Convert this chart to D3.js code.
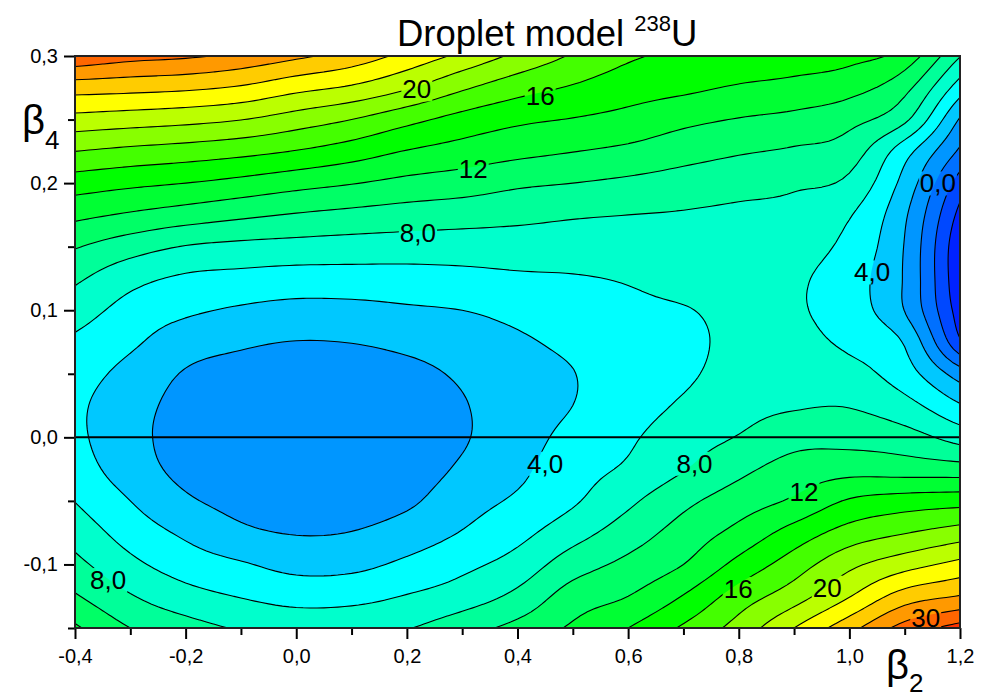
<!DOCTYPE html>
<html><head><meta charset="utf-8">
<script src="https://cdn.jsdelivr.net/npm/d3@7"></script>
<style>
body{margin:0;background:#fff;}
text{font-family:"Liberation Sans",Arial,Helvetica,sans-serif;fill:#000;}
</style>
</head><body>
<svg id="chart" width="992" height="698"></svg>
<script>
// ---------------- DATA ----------------
const beta2 = [-0.4,-0.3,-0.2,-0.1,0.0,0.1,0.2,0.3,0.4,0.5,0.6,0.7,0.8,0.9,1.0,1.1,1.2];
// rows from beta4 = 0.3 (top) down to -0.15 (bottom)
const beta4 = [0.3,0.275,0.25,0.225,0.2,0.175,0.15,0.125,0.1,0.075,0.05,0.025,0.0,-0.025,-0.05,-0.075,-0.1,-0.125,-0.15];
// deformation energy (MeV), one array per beta2 column
const colM04 = [29.6,24.9,21.3,18.0,15.0,12.5,10.15,8.35,6.95,5.65,4.85,4.4,4.45,4.95,5.95,7.2,8.55,10.2,12.3];
const colM03 = [28.7,24.65,20.95,17.5,14.45,11.75,8.9,6.65,5.3,4.35,3.4,2.8,2.65,3.0,4.0,5.15,6.5,8.15,10.0];
const colM02 = [28.3,24.35,20.6,17.1,14.0,11.05,7.9,5.7,4.35,2.9,1.85,1.35,1.2,1.45,2.3,3.65,5.05,6.75,8.8];
const colM01 = [27.5,23.75,20.05,16.6,13.4,10.4,7.5,5.4,3.75,2.3,1.3,0.75,0.6,0.8,1.4,2.4,4.2,5.9,7.8];
const colP00 = [26.4,22.6,19.05,15.9,12.7,9.85,7.3,5.15,3.4,1.95,0.9,0.35,0.2,0.4,1.0,1.9,3.4,5.3,7.3];
const colP01 = [25.2,21.7,18.0,15.0,12.1,9.45,7.15,5.15,3.45,2.05,0.95,0.35,0.15,0.4,1.0,2.05,3.5,5.4,7.4];
const colP02 = [23.4,20.2,16.6,13.9,11.45,9.1,7.05,5.2,3.75,2.5,1.4,0.8,0.65,0.95,1.65,2.9,4.4,6.1,7.9];
const colP03 = [21.5,18.3,15.3,13.2,11.0,8.85,7.0,5.4,4.0,3.1,2.3,1.85,1.8,2.3,3.2,4.1,5.5,7.0,9.2];
const colP04 = [19.55,16.8,14.4,12.55,10.35,8.55,7.0,5.7,4.5,3.75,3.3,3.1,3.2,3.55,4.3,5.4,6.8,8.5,10.6];
const colP05 = [17.8,15.8,13.9,12.05,10.0,8.2,7.0,5.85,5.0,4.4,3.95,4.0,4.55,5.2,5.75,7.2,9.05,10.9,12.3];
const colP06 = [16.3,14.9,13.35,11.55,9.6,8.0,7.1,6.15,5.6,5.2,5.0,5.15,5.7,6.3,7.6,9.0,10.5,12.0,14.0];
const colP07 = [15.6,14.4,12.5,10.8,9.15,7.85,7.3,6.6,5.9,5.6,5.7,6.25,7.1,7.9,9.5,10.8,12.0,14.1,16.3];
const colP08 = [15.3,13.8,11.9,10.2,8.7,7.6,7.0,6.6,6.4,6.4,6.7,7.3,8.1,9.5,11.0,12.6,14.6,16.9,18.8];
const colP09 = [15.0,13.4,11.45,9.75,8.3,7.4,6.8,6.3,6.2,6.5,7.1,7.8,9.3,10.8,12.3,14.8,17.0,19.1,22.0];
const colP10 = [14.6,12.7,10.6,9.0,7.55,6.15,5.4,4.85,5.0,5.6,6.7,7.9,9.3,11.3,14.2,16.8,19.5,21.9,25.3];
const colP11 = [13.2,10.6,8.4,4.8,3.3,2.3,1.9,1.8,1.95,3.8,4.9,6.7,8.8,11.1,14.9,17.9,21.2,24.9,28.8];
const colP12 = [8.1,5.0,1.8,-0.35,-2.9,-4.6,-5.6,-5.6,-5.0,-3.7,1.0,4.2,7.2,10.9,15.2,18.9,22.6,26.1,30.8];
const energyColumns = [colM04,colM03,colM02,colM01,colP00,colP01,colP02,colP03,colP04,colP05,colP06,colP07,colP08,colP09,colP10,colP11,colP12];

const levels = [-8,-6,-4,-2,0,2,4,6,8,10,12,14,16,18,20,22,24,26,28,30,32];
const bandColors = ["#0000e6","#0000ff","#0022ff","#0048ff","#0070ff","#0096ff","#00c8ff","#00ffff","#00ffcc","#00ff99","#00ff66","#00ff33","#00ff00","#44ff00","#88ff00","#bbff00","#ffff00","#ffcc00","#ff9900","#ff6600","#ff3300","#ff0000"];

const xMajorTicks = [-0.4,-0.2,0.0,0.2,0.4,0.6,0.8,1.0,1.2];
const xMinorTicks = [-0.3,-0.1,0.1,0.3,0.5,0.7,0.9,1.1];
const yMajorTicks = [-0.1,0.0,0.1,0.2,0.3];
const yMinorTicks = [-0.15,-0.05,0.05,0.15,0.25];

const labelTexts = ["20","16","12","8,0","0,0","4,0","4,0","8,0","12","16","20","30","8,0"];
const labelB2 = [0.218,0.441,0.320,0.220,1.160,1.041,0.450,0.720,0.918,0.799,0.960,1.138,-0.340];
const labelB4 = [0.274,0.269,0.211,0.161,0.200,0.130,-0.0205,-0.0205,-0.0425,-0.119,-0.118,-0.1417,-0.112];

// ---------------- LAYOUT ----------------
const svg = d3.select("#chart");
const L = 75, R = 960, T = 56, B = 628;
const x = d3.scaleLinear().domain([-0.4,1.2]).range([L,R]);
const y = d3.scaleLinear().domain([-0.15,0.3]).range([B,T]);

// smooth resampling of the read grid for drawing (Catmull-Rom)
const NC = beta2.length, NR = beta4.length, F = 8;
function g(i,j){
  if(i<0) return 2*g(0,j)-g(1,j);
  if(i>NC-1) return 2*g(NC-1,j)-g(NC-2,j);
  if(j<0) return 2*g(i,0)-g(i,1);
  if(j>NR-1) return 2*g(i,NR-1)-g(i,NR-2);
  return energyColumns[i][j];
}
function cr(p0,p1,p2,p3,t){return p1+0.5*t*(p2-p0+t*(2*p0-5*p1+4*p2-p3+t*(3*(p1-p2)+p3-p0)));}
const NX=(NC-1)*F+1, NY=(NR-1)*F+1;
const vals=new Float64Array(NX*NY);
for(let jj=0;jj<NY;jj++){
  const fj=jj/F, j=Math.min(Math.floor(fj),NR-2), tj=fj-j;
  for(let ii=0;ii<NX;ii++){
    const fi=ii/F, i=Math.min(Math.floor(fi),NC-2), ti=fi-i;
    const col=[];
    for(let a=-1;a<=2;a++) col.push(cr(g(i+a,j-1),g(i+a,j),g(i+a,j+1),g(i+a,j+2),tj));
    vals[jj*NX+ii]=cr(col[0],col[1],col[2],col[3],ti);
  }
}
const sx=(R-L)/(NX-1), sy=(B-T)/(NY-1);
const proj=d3.geoTransform({point(px,py){this.stream.point(L+(px-0.5)*sx, T+(py-0.5)*sy);}});
const path=d3.geoPath(proj);
const contours=d3.contours().size([NX,NY]).thresholds(levels)(vals);

svg.append("clipPath").attr("id","plotclip").append("rect").attr("x",L).attr("y",T).attr("width",R-L).attr("height",B-T);

const plot=svg.append("g").attr("clip-path","url(#plotclip)");
plot.append("rect").attr("x",L).attr("y",T).attr("width",R-L).attr("height",B-T).attr("fill",bandColors[0]);
plot.append("g").selectAll("path").data(contours).join("path")
  .attr("d",path).attr("fill",(d,i)=>bandColors[i+1]).attr("stroke","none");

// contour labels (also used to cut the lines)
const labelData = labelTexts.map((t,i)=>({t, b2:labelB2[i], b4:labelB4[i]}));
const mask=svg.append("mask").attr("id","lblmask").attr("maskUnits","userSpaceOnUse");
mask.append("rect").attr("x",0).attr("y",0).attr("width",992).attr("height",698).attr("fill","#fff");
const lblG=svg.append("g");
lblG.selectAll("text").data(labelData).join("text")
  .attr("x",d=>x(d.b2)).attr("y",d=>y(d.b4)).attr("dy","0.36em")
  .attr("text-anchor","middle").attr("font-size",26).text(d=>d.t)
  .each(function(){const b=this.getBBox();
    mask.append("rect").attr("x",b.x-1).attr("y",b.y+3).attr("width",b.width+2).attr("height",b.height-6).attr("fill","#000");});

const lines=plot.append("g").attr("mask","url(#lblmask)");
lines.selectAll("path").data(contours.filter(c=>c.coordinates.length)).join("path")
  .attr("d",path).attr("fill","none").attr("stroke","#000").attr("stroke-width",1.1);
lblG.raise();

// zero line
svg.append("line").attr("x1",L).attr("x2",R).attr("y1",y(0)).attr("y2",y(0)).attr("stroke","#000").attr("stroke-width",2);

// axes
const fmt=d=>d3.format(".1f")(d).replace(".",",").replace("\u2212","-");
svg.append("g").attr("transform",`translate(0,${B})`)
  .call(d3.axisBottom(x).tickValues(xMajorTicks).tickSize(11).tickPadding(10).tickFormat(fmt));
svg.append("g").attr("transform",`translate(0,${B})`)
  .call(d3.axisBottom(x).tickValues(xMinorTicks).tickSize(7).tickFormat(""));
svg.append("g").attr("transform",`translate(${L},0)`)
  .call(d3.axisLeft(y).tickValues(yMajorTicks).tickSize(11).tickPadding(6).tickFormat(fmt));
svg.append("g").attr("transform",`translate(${L},0)`)
  .call(d3.axisLeft(y).tickValues(yMinorTicks).tickSize(7).tickFormat(""));
svg.selectAll(".domain").remove();
svg.selectAll(".tick line").attr("stroke","#000").attr("stroke-width",2);
svg.selectAll(".tick text").attr("font-size",20).attr("font-family","Liberation Sans, Arial, sans-serif").attr("fill","#000");

// frame
svg.append("rect").attr("x",L).attr("y",T).attr("width",R-L).attr("height",B-T)
  .attr("fill","none").attr("stroke","#222").attr("stroke-width",2);

// title
const title=svg.append("text").attr("x",397).attr("y",46).attr("font-size",36.5);
title.append("tspan").text("Droplet model ");
title.append("tspan").attr("font-size",22).attr("dy",-15).text("238");
title.append("tspan").attr("dy",15).text("U");

// axis titles
const yt=svg.append("text").attr("x",22).attr("y",134).attr("font-size",40);
yt.append("tspan").text("β");
yt.append("tspan").attr("font-size",26).attr("dy",15).text("4");
const xt=svg.append("text").attr("x",886).attr("y",679).attr("font-size",40);
xt.append("tspan").text("β");
xt.append("tspan").attr("font-size",26).attr("dy",13).text("2");
</script>
</body></html>
